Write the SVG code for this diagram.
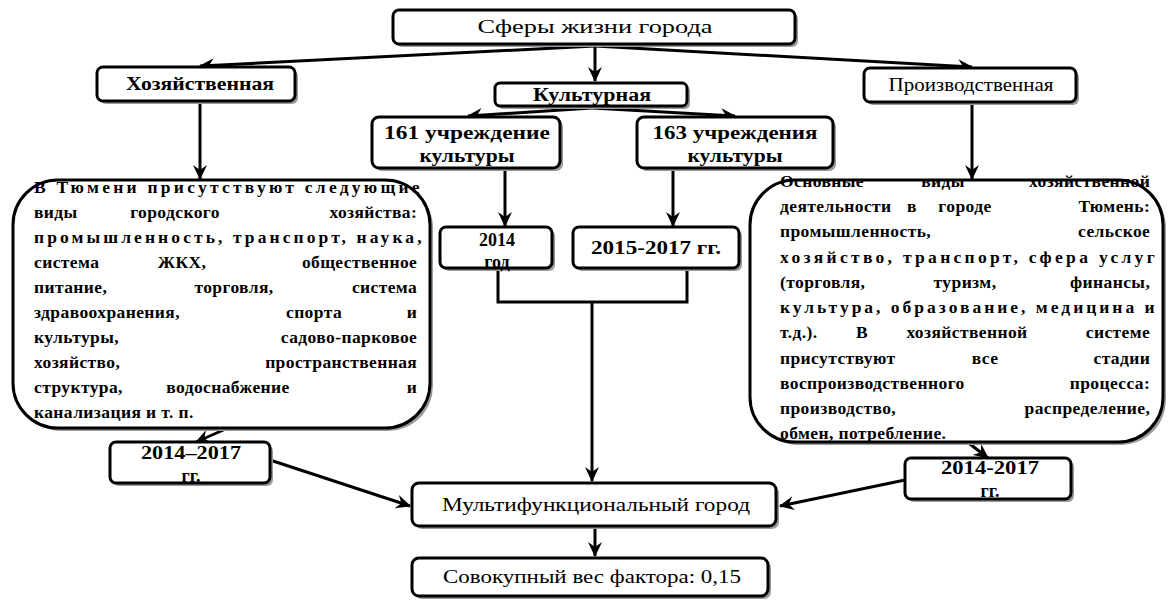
<svg xmlns="http://www.w3.org/2000/svg" width="1173" height="600" viewBox="0 0 1173 600">
<defs>
<marker id="arr" markerUnits="userSpaceOnUse" markerWidth="16" markerHeight="14" refX="14" refY="7" orient="auto">
<path d="M0,0 L15,7 L0,14 L5,7 z" fill="#000"/>
</marker>
<style>
.box{fill:#fff;stroke:#000;stroke-width:3}
.sh{fill:#9a9a9a;stroke:none}
.lbl{font-size:18px;fill:#000;text-anchor:middle}
.b{font-weight:bold}
.body{font-size:17.5px;font-weight:bold;fill:#000;letter-spacing:0.4px}
.con{fill:none;stroke:#000;stroke-width:3}
</style>
</defs>
<rect width="1173" height="600" fill="#fff"/>

<g id="connectors">
<line class="con" x1="595" y1="46" x2="200" y2="66" marker-end="url(#arr)"/>
<line class="con" x1="595" y1="46" x2="972" y2="67" marker-end="url(#arr)"/>
<line class="con" x1="595" y1="45" x2="595" y2="81" marker-end="url(#arr)"/>
<line class="con" x1="592" y1="108" x2="468" y2="116" marker-end="url(#arr)"/>
<line class="con" x1="592" y1="108" x2="735" y2="116" marker-end="url(#arr)"/>
<line class="con" x1="200" y1="102" x2="200" y2="179" marker-end="url(#arr)"/>
<line class="con" x1="972" y1="102" x2="972" y2="179" marker-end="url(#arr)"/>
<line class="con" x1="505" y1="169" x2="505" y2="226" marker-end="url(#arr)"/>
<line class="con" x1="673" y1="169" x2="673" y2="226" marker-end="url(#arr)"/>
<polyline class="con" points="498,269 498,302 687,302 687,269"/>
<line class="con" x1="592" y1="302" x2="592" y2="481" marker-end="url(#arr)"/>
<line class="con" x1="228" y1="428" x2="196" y2="442" marker-end="url(#arr)"/>
<line class="con" x1="966" y1="441" x2="988" y2="458" marker-end="url(#arr)"/>
<line class="con" x1="270" y1="460" x2="410" y2="506" marker-end="url(#arr)"/>
<line class="con" x1="905" y1="480" x2="780" y2="506" marker-end="url(#arr)"/>
<line class="con" x1="595" y1="528" x2="595" y2="556" marker-end="url(#arr)"/>
</g>

<g font-family="'Liberation Serif', 'Times New Roman', 'DejaVu Serif', serif">
<g id="n-top">
<rect class="sh" x="396" y="13" width="402" height="34" rx="6"/>
<rect class="box" x="393" y="10" width="402" height="34" rx="6"/>
<text class="lbl" x="595" y="33" textLength="235" lengthAdjust="spacingAndGlyphs">Сферы жизни города</text>
</g>

<g id="n-hoz">
<rect class="sh" x="100" y="70" width="198" height="34" rx="6"/>
<rect class="box" x="97" y="67" width="198" height="34" rx="6"/>
<text class="lbl b" x="200" y="90" textLength="148" lengthAdjust="spacingAndGlyphs">Хозяйственная</text>
</g>

<g id="n-cult">
<rect class="sh" x="498" y="86" width="192" height="23" rx="5"/>
<rect class="box" x="495" y="83" width="192" height="23" rx="5"/>
<text class="lbl b" x="592" y="101" textLength="118" lengthAdjust="spacingAndGlyphs">Культурная</text>
</g>

<g id="n-prod">
<rect class="sh" x="867" y="71" width="212" height="34" rx="6"/>
<rect class="box" x="864" y="68" width="212" height="34" rx="6"/>
<text class="lbl" x="971" y="91" textLength="165" lengthAdjust="spacingAndGlyphs">Производственная</text>
</g>

<g id="n-161">
<rect class="sh" x="375" y="120" width="188" height="51" rx="7"/>
<rect class="box" x="372" y="117" width="188" height="51" rx="7"/>
<text class="lbl b" x="467" y="139" textLength="166" lengthAdjust="spacingAndGlyphs">161 учреждение</text>
<text class="lbl b" x="467" y="162" textLength="95" lengthAdjust="spacingAndGlyphs">культуры</text>
</g>

<g id="n-163">
<rect class="sh" x="640" y="120" width="196" height="51" rx="7"/>
<rect class="box" x="637" y="117" width="196" height="51" rx="7"/>
<text class="lbl b" x="735" y="139" textLength="165" lengthAdjust="spacingAndGlyphs">163 учреждения</text>
<text class="lbl b" x="735" y="162" textLength="95" lengthAdjust="spacingAndGlyphs">культуры</text>
</g>

<g id="n-2014">
<rect class="sh" x="443" y="230" width="112" height="41" rx="6"/>
<rect class="box" x="440" y="227" width="112" height="41" rx="6"/>
<text class="lbl b" x="497" y="246" font-size="19">2014</text>
<text class="lbl b" x="497" y="268" font-size="17">год</text>
</g>

<g id="n-2015">
<rect class="sh" x="576" y="230" width="166" height="41" rx="6"/>
<rect class="box" x="573" y="227" width="166" height="41" rx="6"/>
<text class="lbl b" x="656" y="254" font-size="19" textLength="130" lengthAdjust="spacingAndGlyphs">2015-2017 гг.</text>
</g>

<g id="n-left">
<rect class="sh" x="16" y="183" width="417" height="248" rx="45"/>
<rect class="box" x="13" y="180" width="417" height="248" rx="45"/>
<text class="body" font-family="'Liberation Serif', 'Times New Roman', serif">
<tspan x="34" y="193" textLength="386" lengthAdjust="spacing">В Тюмени присутствуют следующие</tspan>
<tspan x="34" y="218">виды</tspan><tspan x="175" y="218" text-anchor="middle">городского</tspan><tspan x="422" y="218" text-anchor="end">хозяйства:</tspan>
<tspan x="34" y="243" textLength="388" lengthAdjust="spacing">промышленность, транспорт, наука,</tspan>
<tspan x="34" y="268">система</tspan><tspan x="182" y="268" text-anchor="middle">ЖКХ,</tspan><tspan x="422" y="268" text-anchor="end">общественное</tspan>
<tspan x="34" y="293">питание,</tspan><tspan x="234" y="293" text-anchor="middle">торговля,</tspan><tspan x="422" y="293" text-anchor="end">система</tspan>
<tspan x="34" y="318">здравоохранения,</tspan><tspan x="314" y="318" text-anchor="middle">спорта</tspan><tspan x="422" y="318" text-anchor="end">и</tspan>
<tspan x="34" y="343">культуры,</tspan><tspan x="422" y="343" text-anchor="end">садово-парковое</tspan>
<tspan x="34" y="368">хозяйство,</tspan><tspan x="422" y="368" text-anchor="end">пространственная</tspan>
<tspan x="34" y="393">структура,</tspan><tspan x="228" y="393" text-anchor="middle">водоснабжение</tspan><tspan x="422" y="393" text-anchor="end">и</tspan>
<tspan x="34" y="418">канализация и т. п.</tspan>
</text>
</g>

<g id="n-right">
<rect class="sh" x="753" y="183" width="413" height="262" rx="45"/>
<rect class="box" x="750" y="180" width="413" height="262" rx="45"/>
<text class="body" font-family="'Liberation Serif', 'Times New Roman', serif">
<tspan x="780" y="187">Основные</tspan><tspan x="943" y="187" text-anchor="middle">виды</tspan><tspan x="1155" y="187" text-anchor="end">хозяйственной</tspan>
<tspan x="780" y="212">деятельности</tspan><tspan x="912" y="212" text-anchor="middle">в</tspan><tspan x="965" y="212" text-anchor="middle">городе</tspan><tspan x="1155" y="212" text-anchor="end">Тюмень:</tspan>
<tspan x="780" y="237">промышленность,</tspan><tspan x="1155" y="237" text-anchor="end">сельское</tspan>
<tspan x="780" y="263" textLength="375" lengthAdjust="spacing">хозяйство, транспорт, сфера услуг</tspan>
<tspan x="780" y="288">(торговля,</tspan><tspan x="965" y="288" text-anchor="middle">туризм,</tspan><tspan x="1155" y="288" text-anchor="end">финансы,</tspan>
<tspan x="780" y="313" textLength="375" lengthAdjust="spacing">культура, образование, медицина и</tspan>
<tspan x="780" y="338">т.д.).</tspan><tspan x="862" y="338" text-anchor="middle">В</tspan><tspan x="967" y="338" text-anchor="middle">хозяйственной</tspan><tspan x="1155" y="338" text-anchor="end">системе</tspan>
<tspan x="780" y="364">присутствуют</tspan><tspan x="985" y="364" text-anchor="middle">все</tspan><tspan x="1155" y="364" text-anchor="end">стадии</tspan>
<tspan x="780" y="389">воспроизводственного</tspan><tspan x="1155" y="389" text-anchor="end">процесса:</tspan>
<tspan x="780" y="414">производство,</tspan><tspan x="1155" y="414" text-anchor="end">распределение,</tspan>
<tspan x="780" y="439">обмен, потребление.</tspan>
</text>
</g>

<g id="n-left-years">
<rect class="sh" x="113" y="445" width="160" height="41" rx="6"/>
<rect class="box" x="110" y="442" width="160" height="41" rx="6"/>
<text class="lbl b" x="191" y="459" font-size="18" textLength="100" lengthAdjust="spacingAndGlyphs">2014–2017</text>
<text class="lbl b" x="191" y="482" font-size="17">гг.</text>
</g>

<g id="n-right-years">
<rect class="sh" x="908" y="461" width="166" height="41" rx="6"/>
<rect class="box" x="905" y="458" width="166" height="41" rx="6"/>
<text class="lbl b" x="990" y="474" font-size="18" textLength="98" lengthAdjust="spacingAndGlyphs">2014-2017</text>
<text class="lbl b" x="990" y="497" font-size="17">гг.</text>
</g>

<g id="n-multi">
<rect class="sh" x="415" y="486" width="364" height="43" rx="7"/>
<rect class="box" x="412" y="483" width="364" height="43" rx="7"/>
<text class="lbl" x="596" y="511" textLength="308" lengthAdjust="spacingAndGlyphs">Мультифункциональный город</text>
</g>

<g id="n-total">
<rect class="sh" x="415" y="561" width="356" height="38" rx="7"/>
<rect class="box" x="412" y="558" width="356" height="38" rx="7"/>
<text class="lbl" x="592" y="583" textLength="298" lengthAdjust="spacingAndGlyphs">Совокупный вес фактора: 0,15</text>
</g>
</g>
</svg>
